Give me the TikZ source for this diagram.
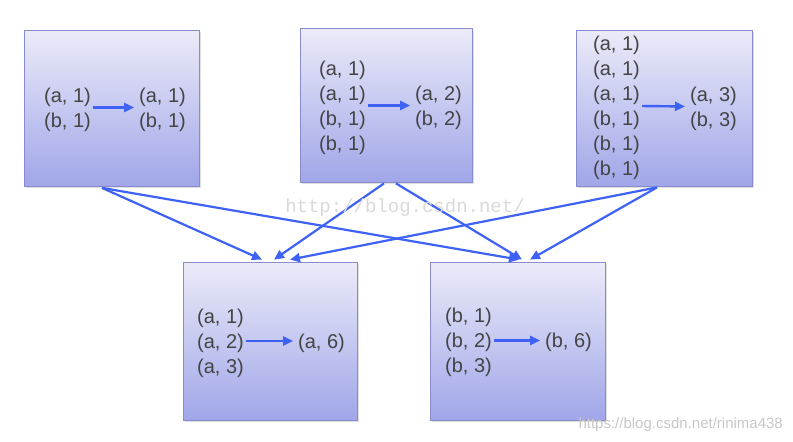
\documentclass[tikz,border=0pt]{standalone}
\usepackage{fontspec}
\setmainfont{Liberation Sans}
\newfontfamily\wmmono{Liberation Mono}
\usetikzlibrary{arrows.meta,shadows}
\definecolor{paneltop}{RGB}{235,235,249}
\definecolor{panelbot}{RGB}{160,166,232}
\definecolor{panelrule}{RGB}{136,140,204}
\definecolor{flowblue}{RGB}{62,98,245}
\definecolor{pairgrey}{RGB}{68,68,68}

\begin{document}
\begin{tikzpicture}[
  x=1pt, y=-1pt,
  % one box per task; a soft vertical fade, thin rim, faint shadow
  panel/.style={draw=panelrule, line width=0.8pt, shading=axis,
                top color=paneltop, bottom color=panelbot,
                drop shadow={shadow xshift=1.5pt, shadow yshift=-1.5pt, opacity=0.25},
                minimum width=175pt, minimum height=156pt, inner sep=0pt},
  pairs/.style={anchor=west, align=left, inner sep=0pt, text=pairgrey,
                font=\fontsize{20}{25}\selectfont},
  flow/.style={-{Triangle[length=10pt, width=9pt]}, draw=flowblue, line width=2.2pt},
  pairflow/.style={flow, line width=2.4pt, shorten <=2pt, shorten >=5pt}
]
\useasboundingbox (0,0) rectangle (793,442);

% map side
\node[panel] (map1) at (111.5,108.5) {};
\node[panel, minimum width=172pt, minimum height=154pt] (map2) at (386,105) {};
\node[panel, minimum width=176pt] (map3) at (664,108) {};
% reduce side
\node[panel, minimum width=174pt, minimum height=158pt] (red1) at (270,341) {};
\node[panel, minimum height=158pt] (red2) at (517.5,341) {};

\node[pairs] (in1)  at (44,109.5)  {(a, 1)\\(b, 1)};
\node[pairs] (out1) at (139,109.5) {(a, 1)\\(b, 1)};
\node[pairs] (in2)  at (319,107.5) {(a, 1)\\(a, 1)\\(b, 1)\\(b, 1)};
\node[pairs] (out2) at (415,107.5) {(a, 2)\\(b, 2)};
\node[pairs] (in3)  at (593,108)   {(a, 1)\\(a, 1)\\(a, 1)\\(b, 1)\\(b, 1)\\(b, 1)};
\node[pairs] (out3) at (690,108.5) {(a, 3)\\(b, 3)};
\node[pairs] (in4)  at (197,343)   {(a, 1)\\(a, 2)\\(a, 3)};
\node[pairs] (out4) at (298,343)   {(a, 6)};
\node[pairs] (in5)  at (445,342.5) {(b, 1)\\(b, 2)\\(b, 3)};
\node[pairs] (out5) at (545,342.5) {(b, 6)};

\foreach \i in {1,...,5}
  \draw[pairflow] ([yshift=2pt]in\i.east) -- ([yshift=2pt]out\i.west);

% shuffle
\foreach \a/\sa/\b/\sb in {map1/-9.5/red1/-8, map1/-9.5/red2/1.5,
                           map2/-2/red1/4,    map2/10/red2/4.5,
                           map3/-7/red1/20,   map3/-7/red2/12.5}
  \draw[flow] ([xshift=\sa pt, yshift=-1pt]\a.south) -- ([xshift=\sb pt, yshift=2pt]\b.north);

% watermarks
\node[text=black!15, font=\wmmono\fontsize{19}{19}\selectfont, inner sep=0pt] (wm1) at (405,208) {http://blog.csdn.net/};
\node[text=black!22, font=\fontsize{15}{15}\selectfont, inner sep=0pt, anchor=east] (wm2) at (783,425) {https://blog.csdn.net/rinima438};
\end{tikzpicture}
\end{document}
